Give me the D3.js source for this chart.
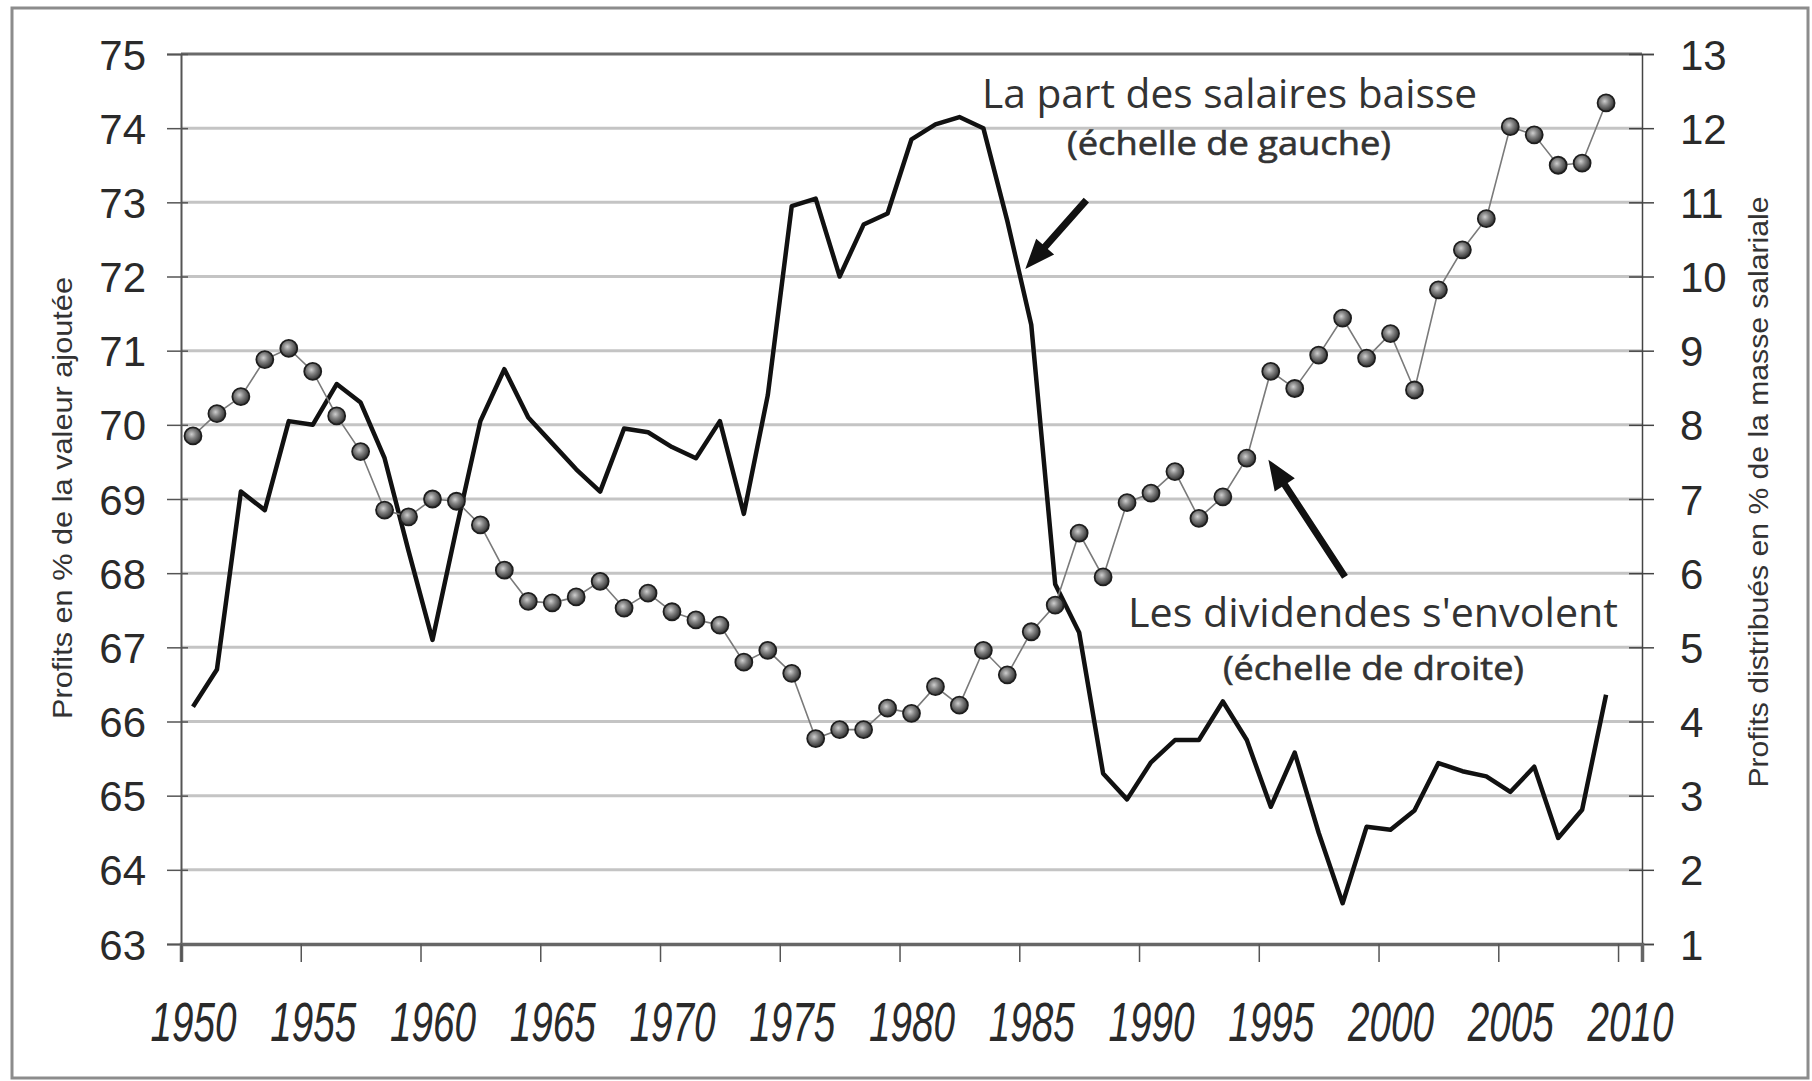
<!DOCTYPE html>
<html>
<head>
<meta charset="utf-8">
<script src="https://cdn.jsdelivr.net/npm/d3@7"></script>
<style>
    body { margin: 0; background: #fff; }
    svg { display: block; }
</style>
</head>
<body>
<div id="chart"></div>
<script>
// Data: years (categories) and the two series
var years = [1950, 1951, 1952, 1953, 1954, 1955, 1956, 1957, 1958, 1959,
    1960, 1961, 1962, 1963, 1964, 1965, 1966, 1967, 1968, 1969,
    1970, 1971, 1972, 1973, 1974, 1975, 1976, 1977, 1978, 1979,
    1980, 1981, 1982, 1983, 1984, 1985, 1986, 1987, 1988, 1989,
    1990, 1991, 1992, 1993, 1994, 1995, 1996, 1997, 1998, 1999,
    2000, 2001, 2002, 2003, 2004, 2005, 2006, 2007, 2008, 2009];

// profits en % de la valeur ajoutee (echelle de gauche)
var profitShare = [66.2, 66.7, 69.1, 68.85, 70.05, 70.0, 70.55, 70.3, 69.55, 68.3,
    67.1, 68.6, 70.05, 70.75, 70.1, 69.75, 69.4, 69.1, 69.95, 69.9,
    69.7, 69.55, 70.05, 68.8, 70.4, 72.95, 73.05, 72.0, 72.7, 72.85,
    73.85, 74.05, 74.15, 74.0, 72.75, 71.35, 67.85, 67.2, 65.3, 64.95,
    65.45, 65.75, 65.75, 66.27, 65.75, 64.85, 65.58, 64.5, 63.55, 64.58,
    64.54, 64.8, 65.44, 65.33, 65.26, 65.05, 65.39, 64.43, 64.81, 66.36];

// profits distribues en % de la masse salariale (echelle de droite)
var dividends = [7.85, 8.15, 8.38, 8.88, 9.03, 8.72, 8.12, 7.64, 6.85, 6.76,
    7.0, 6.97, 6.65, 6.04, 5.62, 5.6, 5.68, 5.89, 5.53, 5.73,
    5.48, 5.37, 5.3, 4.8, 4.96, 4.65, 3.77, 3.89, 3.89, 4.18,
    4.11, 4.47, 4.22, 4.96, 4.63, 5.21, 5.57, 6.54, 5.95, 6.95,
    7.08, 7.37, 6.74, 7.03, 7.55, 8.72, 8.49, 8.94, 9.44, 8.9,
    9.23, 8.47, 9.82, 10.36, 10.78, 12.02, 11.91, 11.5, 11.53, 12.34];

var leftTicks = [63, 64, 65, 66, 67, 68, 69, 70, 71, 72, 73, 74, 75];
var rightTicks = [1, 2, 3, 4, 5, 6, 7, 8, 9, 10, 11, 12, 13];
var xTickLabels = ["1950", "1955", "1960", "1965", "1970", "1975", "1980",
    "1985", "1990", "1995", "2000", "2005", "2010"];

var leftTitle = "Profits en % de la valeur ajoutée";
var rightTitle = "Profits distribués en % de la masse salariale";

// SVG area
var svgWidth = 1812;
var svgHeight = 1081;

var plot = { left: 181, right: 1642, top: 54, bottom: 944 };

var svg = d3.select("#chart")
    .append("svg")
    .attr("width", svgWidth)
    .attr("height", svgHeight);

// radial gradient for the ball markers
var defs = svg.append("defs");
var grad = defs.append("radialGradient")
    .attr("id", "ball")
    .attr("cx", "42%").attr("cy", "40%").attr("r", "62%");
grad.append("stop").attr("offset", "0%").attr("stop-color", "#cfcfcf");
grad.append("stop").attr("offset", "40%").attr("stop-color", "#858585");
grad.append("stop").attr("offset", "100%").attr("stop-color", "#2c2c2c");

// outer frame
svg.append("rect")
    .attr("x", 12).attr("y", 8)
    .attr("width", 1796).attr("height", 1070)
    .attr("fill", "#fff")
    .attr("stroke", "#8c8c8c")
    .attr("stroke-width", 3);

// Scales
// categories sit between tick marks, like in Excel
var xScale = d3.scaleLinear()
    .domain([years[0] - 0.5, +xTickLabels[xTickLabels.length - 1] + 0.5])
    .range([plot.left, plot.right]);
var step = xScale(1) - xScale(0);

var yLeft = d3.scaleLinear()
    .domain([leftTicks[0], leftTicks[leftTicks.length - 1]])
    .range([plot.bottom, plot.top]);

var yRight = d3.scaleLinear()
    .domain([rightTicks[0], rightTicks[rightTicks.length - 1]])
    .range([plot.bottom, plot.top]);

// Gridlines
svg.append("g")
    .selectAll("line")
    .data(leftTicks.slice(1))
    .enter()
    .append("line")
    .attr("x1", plot.left)
    .attr("x2", plot.right)
    .attr("y1", d => yLeft(d))
    .attr("y2", d => yLeft(d))
    .attr("stroke", d => d === 75 ? "#6a6a6a" : "#c4c4c4")
    .attr("stroke-width", 3);

// Left axis
var leftAxis = d3.axisLeft(yLeft)
    .tickValues(leftTicks)
    .tickSize(14)
    .tickPadding(21);

var gLeft = svg.append("g")
    .attr("transform", `translate(${plot.left}, 0)`)
    .call(leftAxis);
gLeft.select(".domain").attr("stroke", "#555").attr("stroke-width", 2);
gLeft.selectAll(".tick line").attr("x1", 7).attr("stroke", "#555").attr("stroke-width", 1.5);
gLeft.selectAll(".tick text")
    .attr("font-family", "Liberation Sans, Arial, sans-serif")
    .attr("font-size", 42)
    .attr("fill", "#2a2a2a")
    .attr("dy", "0.36em");

// Right axis
var rightAxis = d3.axisRight(yRight)
    .tickValues(rightTicks)
    .tickSize(12)
    .tickPadding(26);

var gRight = svg.append("g")
    .attr("transform", `translate(${plot.right}, 0)`)
    .call(rightAxis);
gRight.select(".domain").attr("stroke", "#444").attr("stroke-width", 1.5);
gRight.selectAll(".tick line").attr("x1", -13).attr("stroke", "#444").attr("stroke-width", 1.5);
gRight.selectAll(".tick text")
    .attr("font-family", "Liberation Sans, Arial, sans-serif")
    .attr("font-size", 42)
    .attr("fill", "#2a2a2a")
    .attr("dy", "0.36em");

// Bottom axis: ticks on category boundaries, labels centred on categories
var bottomAxis = d3.axisBottom(xScale)
    .tickValues(xTickLabels.map(d => +d - 0.5))
    .tickSize(18)
    .tickFormat(d => String(d + 0.5));

var gBottom = svg.append("g")
    .attr("transform", `translate(0, ${plot.bottom})`)
    .call(bottomAxis);
gBottom.select(".domain").attr("stroke", "#666").attr("stroke-width", 3.5);
gBottom.selectAll(".tick line").attr("stroke", "#555").attr("stroke-width", 1.5);
gBottom.selectAll(".tick text")
    .attr("font-family", "Liberation Sans, Arial, sans-serif")
    .attr("font-style", "italic")
    .attr("font-size", 55)
    .attr("fill", "#2a2a2a")
    .attr("x", step / 2)
    .attr("y", 97)
    .attr("dy", 0)
    .attr("textLength", 86)
    .attr("lengthAdjust", "spacingAndGlyphs");

// Axis titles
svg.append("text")
    .attr("transform", "translate(72, 498) rotate(-90)")
    .attr("text-anchor", "middle")
    .attr("font-family", "Liberation Sans, Arial, sans-serif")
    .attr("font-size", 28)
    .attr("fill", "#333")
    .attr("textLength", 442)
    .attr("lengthAdjust", "spacingAndGlyphs")
    .text(leftTitle);

svg.append("text")
    .attr("transform", "translate(1768, 492) rotate(-90)")
    .attr("text-anchor", "middle")
    .attr("font-family", "Liberation Sans, Arial, sans-serif")
    .attr("font-size", 28)
    .attr("fill", "#333")
    .attr("textLength", 591)
    .attr("lengthAdjust", "spacingAndGlyphs")
    .text(rightTitle);

// Wage/profit share line (left scale)
var profitLine = d3.line()
    .x((d, i) => xScale(years[i]))
    .y(d => yLeft(d));

svg.append("path")
    .datum(profitShare)
    .attr("d", profitLine)
    .attr("fill", "none")
    .attr("stroke", "#111")
    .attr("stroke-width", 4.5)
    .attr("stroke-linejoin", "round");

// Dividends line + ball markers (right scale)
var divLine = d3.line()
    .x((d, i) => xScale(years[i]))
    .y(d => yRight(d));

svg.append("path")
    .datum(dividends)
    .attr("d", divLine)
    .attr("fill", "none")
    .attr("stroke", "#7a7a7a")
    .attr("stroke-width", 1.6);

svg.append("g")
    .selectAll("circle")
    .data(dividends)
    .enter()
    .append("circle")
    .attr("cx", (d, i) => xScale(years[i]))
    .attr("cy", d => yRight(d))
    .attr("r", 8.5)
    .attr("fill", "url(#ball)")
    .attr("stroke", "#1e1e1e")
    .attr("stroke-width", 1.8);

// Annotations
var noteFont = "Open Sans, Lato, sans-serif";
var notes = [
    { text: "La part des salaires baisse", x: 982, y: 108, size: 40, weight: 400, len: 495 },
    { text: "(échelle de gauche)", x: 1067, y: 155, size: 33, weight: 500, len: 324 },
    { text: "Les dividendes s'envolent", x: 1128, y: 627, size: 40, weight: 400, len: 490 },
    { text: "(échelle de droite)", x: 1223, y: 680, size: 33, weight: 500, len: 301 }
];

svg.append("g")
    .selectAll("text")
    .data(notes)
    .enter()
    .append("text")
    .attr("x", d => d.x)
    .attr("y", d => d.y)
    .attr("font-family", noteFont)
    .attr("font-size", d => d.size)
    .attr("font-weight", d => d.weight)
    .attr("fill", "#333")
    .attr("stroke", d => d.size < 40 ? "#333" : "none")
    .attr("stroke-width", 0.6)
    .attr("textLength", d => d.len)
    .attr("lengthAdjust", "spacingAndGlyphs")
    .text(d => d.text);

// Arrows, anchored in data coordinates
var arrows = [
    { from: [xScale(1987.3), yLeft(73.03)], to: [xScale(1984.75), yLeft(72.1)] },
    { from: [xScale(1998.1), yRight(5.95)], to: [xScale(1994.9), yRight(7.53)] }
];

function arrowPath(a) {
    var dx = a.to[0] - a.from[0], dy = a.to[1] - a.from[1];
    var len = Math.sqrt(dx * dx + dy * dy);
    var ux = dx / len, uy = dy / len;
    var px = -uy, py = ux;
    var headL = 30, headW = 12, shaft = 3.5;
    var bx = a.to[0] - ux * headL, by = a.to[1] - uy * headL;
    var pts = [
        [a.from[0] + px * shaft, a.from[1] + py * shaft],
        [bx + px * shaft, by + py * shaft],
        [bx + px * headW, by + py * headW],
        a.to,
        [bx - px * headW, by - py * headW],
        [bx - px * shaft, by - py * shaft],
        [a.from[0] - px * shaft, a.from[1] - py * shaft]
    ];
    return "M" + pts.map(p => p[0].toFixed(1) + "," + p[1].toFixed(1)).join("L") + "Z";
}

svg.append("g")
    .selectAll("path")
    .data(arrows)
    .enter()
    .append("path")
    .attr("d", arrowPath)
    .attr("fill", "#111");
</script>
</body>
</html>
